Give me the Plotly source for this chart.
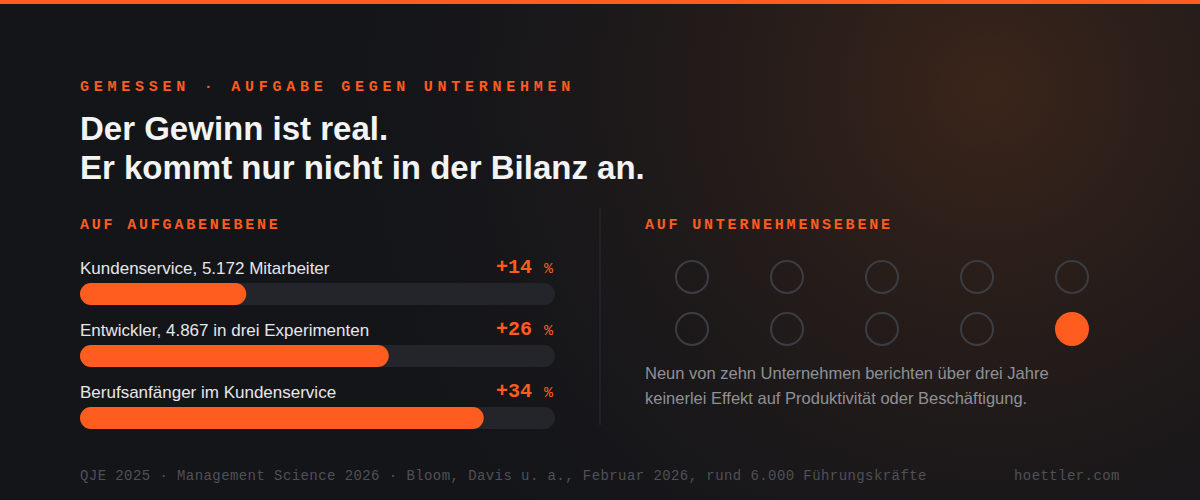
import urllib.parse
import plotly.graph_objects as go

W, H = 1200, 500
ORANGE = "#ff5c1f"
BG = "#141519"
TRACK = "#23252a"
RING = "#3b3d43"
SANS = "Liberation Sans, Arial, sans-serif"
MONO = "Courier New, Liberation Mono, monospace"

# data
tasks = ["Kundenservice, 5.172 Mitarbeiter",
         "Entwickler, 4.867 in drei Experimenten",
         "Berufsanfänger im Kundenservice"]
gains = [14, 26, 34]          # Produktivitätsgewinn in %
scale_max = 40
firms_total = 10
firms_with_effect = 1
firms_per_row = 5

kicker = "GEMESSEN · AUFGABE GEGEN UNTERNEHMEN"
title_lines = ["Der Gewinn ist real.", "Er kommt nur nicht in der Bilanz an."]
left_head = "AUF AUFGABENEBENE"
right_head = "AUF UNTERNEHMENSEBENE"
caption_lines = ["Neun von zehn Unternehmen berichten über drei Jahre",
                 "keinerlei Effekt auf Produktivität oder Beschäftigung."]
source_note = "QJE 2025 · Management Science 2026 · Bloom, Davis u. a., Februar 2026, rund 6.000 Führungskräfte"
site = "hoettler.com"


def py(px):
    return 1 - px / H


def spaced(txt, ls):
    return f'<span style="letter-spacing:{ls}px">{txt}</span>'


# bar panel geometry (pixels)
BAR_X0, BAR_X1 = 80, 555
ROW0, ROW_STEP, BAR_H = 294, 62, 22
cap = (BAR_H / 2) * scale_max / (BAR_X1 - BAR_X0)   # rounded-end radius in data units
rows = list(range(len(tasks)))

# dot panel geometry (pixels)
DOT_X0, DOT_DX = 692, 95
DOT_Y0, DOT_DY = 277, 52

fig = go.Figure()


def pill(values, color, hover):
    # two overlapping bars, each rounded at its far end -> rounded on both sides
    fig.add_trace(go.Bar(y=rows, x=[v - cap for v in values], base=cap, orientation="h",
                         width=BAR_H / ROW_STEP, marker=dict(color=color, cornerradius=BAR_H / 2, line_width=0),
                         customdata=values, hovertemplate=hover))
    fig.add_trace(go.Bar(y=rows, x=[-(v - cap) for v in values], base=[v - cap for v in values],
                         orientation="h", width=BAR_H / ROW_STEP,
                         marker=dict(color=color, cornerradius=BAR_H / 2, line_width=0),
                         hoverinfo="skip"))


pill([scale_max] * len(rows), TRACK, None)
pill(gains, ORANGE, "+%{customdata} %<extra></extra>")

# ten firms, one with an effect
idx = list(range(firms_total))
filled = [i >= firms_total - firms_with_effect for i in idx]
fig.add_trace(go.Scatter(
    x=[i % firms_per_row for i in idx], y=[i // firms_per_row for i in idx],
    mode="markers", xaxis="x2", yaxis="y2", hoverinfo="skip",
    marker=dict(size=32, color=[ORANGE if f else "rgba(0,0,0,0)" for f in filled],
                line=dict(width=2, color=[ORANGE if f else RING for f in filled]))))

ann = []
ann.append(dict(x=79 / W, y=py(88), text=spaced(kicker, 4.75), font=dict(family=MONO, size=15, color=ORANGE, weight="bold")))
ann.append(dict(x=79 / W, y=py(128), text=title_lines[0], font=dict(family=SANS, size=33, color="#f3f3f4", weight="bold")))
ann.append(dict(x=79 / W, y=py(167), text=title_lines[1], font=dict(family=SANS, size=33, color="#f3f3f4", weight="bold")))
ann.append(dict(x=79 / W, y=py(226), text=spaced(left_head, 2.8), font=dict(family=MONO, size=15, color=ORANGE, weight="bold")))
ann.append(dict(x=644 / W, y=py(226), text=spaced(right_head, 2.8), font=dict(family=MONO, size=15, color=ORANGE, weight="bold")))
for i, (t, g) in enumerate(zip(tasks, gains)):
    ann.append(dict(x=0, y=i, xref="x", yref="y", yshift=26, xshift=-1, text=t,
                    font=dict(family=SANS, size=17, color="#e6e7e9")))
    ann.append(dict(x=scale_max, y=i, xref="x", yref="y", yshift=27, xanchor="right",
                    text=f"+{g}" + ' <span style="font-size:15px;font-weight:normal">%</span>',
                    font=dict(family=MONO, size=20, color=ORANGE, weight="bold")))
for k, line in enumerate(caption_lines):
    ann.append(dict(x=644 / W, y=py(373 + 24.5 * k), text=line,
                    font=dict(family=SANS, size=16.5, color="#8f9197")))
ann.append(dict(x=79 / W, y=py(476), text=spaced(source_note, 0.42), font=dict(family=MONO, size=14, color="#4f5157")))
ann.append(dict(x=1121 / W, y=py(476), xanchor="right", text=spaced(site, 0.42), font=dict(family=MONO, size=14, color="#4f5157")))
for a in ann:
    a.setdefault("xref", "paper")
    a.setdefault("yref", "paper")
    a.setdefault("xanchor", "left")
    a["yanchor"] = "middle"
    a["showarrow"] = False
    a["borderpad"] = 0

glow = ('<svg xmlns="http://www.w3.org/2000/svg" width="1200" height="500" viewBox="0 0 1200 500">'
        '<defs><radialGradient id="g" cx="990" cy="90" r="640" gradientUnits="userSpaceOnUse">'
        '<stop offset="0" stop-color="#3d261a" stop-opacity="0.95"/>'
        '<stop offset="0.45" stop-color="#2c1f1a" stop-opacity="0.6"/>'
        '<stop offset="1" stop-color="#1a1a1d" stop-opacity="0"/>'
        '</radialGradient></defs><rect width="1200" height="500" fill="url(#g)"/></svg>')

fig.update_layout(
    width=W, height=H, margin=dict(l=0, r=0, t=0, b=0),
    paper_bgcolor=BG, plot_bgcolor="rgba(0,0,0,0)",
    barmode="overlay", showlegend=False,
    xaxis=dict(domain=[BAR_X0 / W, BAR_X1 / W], range=[0, scale_max], visible=False, fixedrange=True),
    yaxis=dict(domain=[0, 1], range=[(H - ROW0) / ROW_STEP, -ROW0 / ROW_STEP], visible=False, fixedrange=True),
    xaxis2=dict(domain=[0, 1], range=[-DOT_X0 / DOT_DX, (W - DOT_X0) / DOT_DX], anchor="y2", visible=False, fixedrange=True),
    yaxis2=dict(domain=[0, 1], range=[(H - DOT_Y0) / DOT_DY, -DOT_Y0 / DOT_DY], anchor="x2", visible=False, fixedrange=True),
    annotations=ann,
    images=[dict(source="data:image/svg+xml;charset=utf-8," + urllib.parse.quote(glow),
                 xref="paper", yref="paper", x=0, y=1, sizex=1, sizey=1,
                 sizing="stretch", xanchor="left", yanchor="top", layer="below")],
    shapes=[
        dict(type="rect", xref="paper", yref="paper", x0=0, x1=1, y0=py(4), y1=1,
             fillcolor=ORANGE, line_width=0),
        dict(type="line", xref="paper", yref="paper", x0=600 / W, x1=600 / W, y0=py(208), y1=py(425),
             line=dict(color="#2a2b30", width=1)),
    ],
)

fig.write_html("out.html", config={"displayModeBar": False},
               post_script="document.body.style.margin='0';document.body.style.background='#141519';")
